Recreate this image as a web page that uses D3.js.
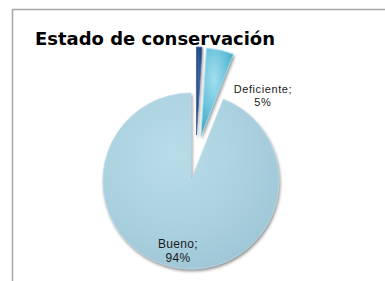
<!DOCTYPE html>
<html><head><meta charset="utf-8">
<script src="https://cdn.jsdelivr.net/npm/d3@7"></script>
<style>html,body{margin:0;padding:0;background:#fff;}svg{display:block;}</style>
</head><body>
<svg id="chart" width="385" height="281"></svg>
<script>
const title = "Estado de conservación";
const categories = ["Malo", "Deficiente", "Bueno"];
const values = [1, 5, 94];
const labels = ["", "Deficiente;\n5%", "Bueno;\n94%"];
const colors = ["#24487f", "#62bfd8", "#aad0df"];
const colorsLight = ["#3d66a3", "#a2def0", "#b9dce8"];
const colorsDark = ["#1a3461", "#3f9fbf", "#9cc4d4"];

const svg = d3.select("#chart");

// frame
svg.append("path").attr("d", "M12.5,281 V9.5 H385").attr("fill", "none")
  .attr("stroke", "#a6a6a6").attr("stroke-width", 1.5);

const defs = svg.append("defs");
const f = defs.append("filter").attr("id", "shadow").attr("x", "-20%").attr("y", "-20%").attr("width", "140%").attr("height", "140%");
f.append("feGaussianBlur").attr("in", "SourceAlpha").attr("stdDeviation", 1.8).attr("result", "b");
f.append("feOffset").attr("in", "b").attr("dx", 0.5).attr("dy", 1.5).attr("result", "o");
f.append("feFlood").attr("flood-color", "#777").attr("flood-opacity", 0.8);
f.append("feComposite").attr("in2", "o").attr("operator", "in").attr("result", "s");
const m = f.append("feMerge");
m.append("feMergeNode").attr("in", "s");
m.append("feMergeNode").attr("in", "SourceGraphic");

colors.forEach((c, i) => {
  const g = defs.append("radialGradient").attr("id", "g" + i)
    .attr("cx", "40%").attr("cy", "35%").attr("r", "75%");
  g.append("stop").attr("offset", "0%").attr("stop-color", colorsLight[i]);
  g.append("stop").attr("offset", "60%").attr("stop-color", c);
  g.append("stop").attr("offset", "100%").attr("stop-color", colorsDark[i]);
});

const cx = 191, cy = 181, R = 88, explode = 46;
const pie = d3.pie().sort(null).startAngle(0).endAngle(2 * Math.PI);
const arcs = pie(values);
const arc = d3.arc().innerRadius(0).outerRadius(R);

const g = svg.append("g").attr("transform", `translate(${cx},${cy})`);
const offs = arcs.map((a, i) => {
  const mid = (a.startAngle + a.endAngle) / 2;
  const d = i === 2 ? 0 : explode;
  return [d * Math.sin(mid) + (i === 0 ? 4 : 0), -d * Math.cos(mid)];
});

g.selectAll("path.slice").data(arcs).enter().append("path")
  .attr("class", "slice")
  .attr("transform", (d, i) => `translate(${offs[i][0]},${offs[i][1]})`)
  .attr("d", arc)
  .attr("fill", (d, i) => `url(#g${i})`)
  .attr("stroke", (d, i) => colorsLight[i]).attr("stroke-width", 0.8)
  .attr("filter", "url(#shadow)");

// title
svg.append("text").attr("x", 35).attr("y", 45).text(title)
  .attr("font-family", "DejaVu Sans, Verdana, sans-serif").attr("font-weight", "bold")
  .attr("font-size", 17).attr("fill", "#000").attr("textLength", 240).attr("lengthAdjust", "spacingAndGlyphs");

// labels
arcs.forEach((a, i) => {
  if (!labels[i]) return;
  const mid = (a.startAngle + a.endAngle) / 2;
  let x, y;
  if (i === 2) {
    x = cx + 0.79 * R * Math.sin(mid);
    y = cy - 0.79 * R * Math.cos(mid);
  } else {
    const rr = 113, ang = mid + 0.47;
    x = cx + rr * Math.sin(ang); y = cy - rr * Math.cos(ang);
  }
  const lines = labels[i].split("\n");
  const t = svg.append("text").attr("text-anchor", "middle")
    .attr("font-family", "Liberation Sans, Arial, sans-serif")
    .attr("font-size", i === 2 ? 12 : 11).attr("fill", "#1a1a1a");
  lines.forEach((l, k) => {
    t.append("tspan").attr("x", x).attr("y", y + (k === 0 ? -1 : (i === 2 ? 13 : 12))).text(l)
      .attr("letter-spacing", i === 2 ? 0.3 : 0.6);
  });
});
</script>
</body></html>
